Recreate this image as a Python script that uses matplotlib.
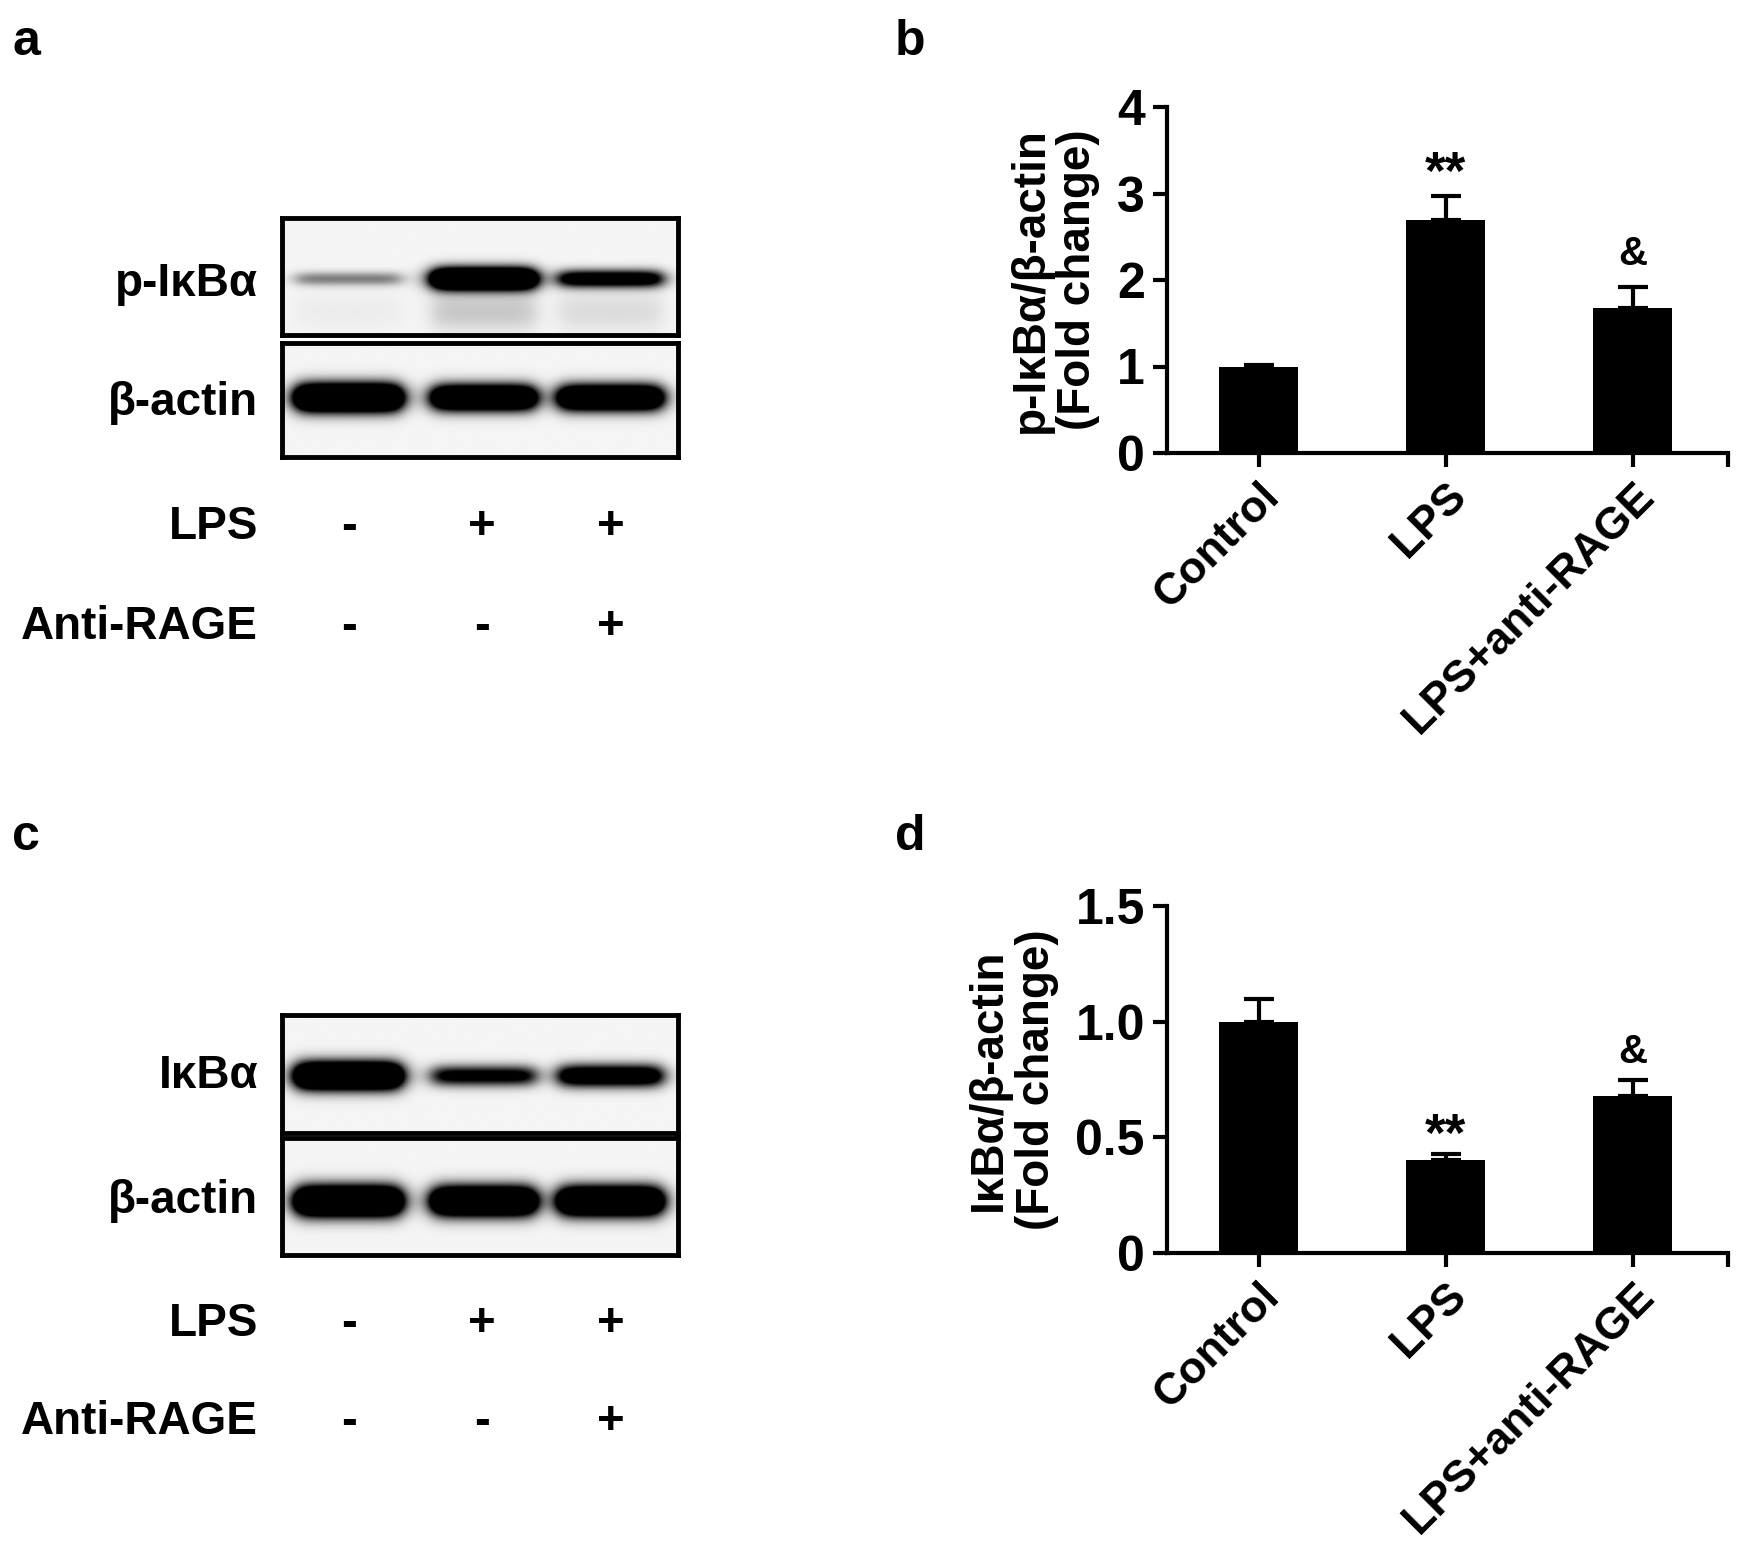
import numpy as np
import matplotlib
matplotlib.use("Agg")
import matplotlib.pyplot as plt

plt.rcParams.update({
    "font.family": ["Liberation Sans", "DejaVu Sans"],
    "font.weight": "bold",
    "axes.labelweight": "bold",
    "font.size": 30,
})

# ---- data ----
groups = ["Control", "LPS", "LPS+anti-RAGE"]
p_ikba_mean = [1.00, 2.69, 1.68]
p_ikba_sem = [0.02, 0.28, 0.24]
ikba_mean = [1.00, 0.40, 0.68]
ikba_sem = [0.10, 0.03, 0.07]
marks = ["", "**", "&"]
lps = ["-", "+", "+"]
anti_rage = ["-", "-", "+"]

# relative band darkness per lane (western blots)
p_ikba_band = [0.18, 1.00, 0.55]
actin_a_band = [1.00, 0.85, 0.85]
ikba_band = [1.00, 0.45, 0.60]
actin_c_band = [1.00, 0.95, 0.95]

W, H = 1754, 1552
fig = plt.figure(figsize=(W / 100, H / 100), dpi=100)

MARK_SIZE = {"**": 38, "&": 29}


def px_axes(x0, y0, x1, y1):
    return fig.add_axes([x0 / W, 1 - y1 / H, (x1 - x0) / W, (y1 - y0) / H])


LANES = [(0.035, 0.30), (0.38, 0.64), (0.70, 0.96)]
LANE_X = [0.17, 0.505, 0.83]
BOX_X = (282, 678)


def blot(box_y, amps, yc, thick, haze=None):
    ax = px_axes(BOX_X[0], box_y[0], BOX_X[1], box_y[1])
    ny, nx = 160, 500
    xs = np.linspace(0, 1, nx)[None, :]
    ys = np.linspace(0, 1, ny)[:, None]
    img = np.full((ny, nx), 0.04)
    for (l, r), a in zip(LANES, amps):
        hx = 1 / (1 + np.exp(-(xs - l) / 0.014)) / (1 + np.exp((xs - r) / 0.014))
        sig = thick * (0.55 + 0.45 * a)
        img = img + 2.6 * a * hx * np.exp(-0.5 * ((ys - yc) / sig) ** 2)
        if haze is not None:
            img = img + haze * a * hx * np.exp(-0.5 * ((ys - 0.80) / 0.12) ** 2)
    ax.imshow(np.clip(img, 0, 1), cmap="gray_r", vmin=0, vmax=1,
              extent=(0, 1, 1, 0), aspect="auto", interpolation="bilinear")
    ax.set_xticks([]); ax.set_yticks([])
    for s in ax.spines.values():
        s.set_linewidth(3.5)
    return ax


def row_label(text, y):
    fig.text(258 / W, 1 - y / H, text, ha="right", va="center", fontsize=33)


def signs(row, y):
    for sx, s in zip(LANE_X, row):
        fig.text((BOX_X[0] + sx * (BOX_X[1] - BOX_X[0])) / W, 1 - y / H, s,
                 ha="center", va="center", fontsize=34)


# ---- panel a ----
blot((218, 335), p_ikba_band, 0.52, 0.065, haze=0.18)
blot((343, 457), actin_a_band, 0.48, 0.085)
row_label("p-IκBα", 284)
row_label("β-actin", 403)
row_label("LPS", 527)
row_label("Anti-RAGE", 627)
signs(lps, 527)
signs(anti_rage, 627)

# ---- panel c ----
blot((1015, 1133), ikba_band, 0.52, 0.08)
blot((1138, 1255), actin_c_band, 0.54, 0.09)
row_label("IκBα", 1076)
row_label("β-actin", 1201)
row_label("LPS", 1324)
row_label("Anti-RAGE", 1422)
signs(lps, 1324)
signs(anti_rage, 1422)


# ---- bar panels ----
def bars(ax, mean, sem, ylim, yticks, yticklabels, ylabel, off):
    x = np.arange(len(groups))
    ax.bar(x, mean, width=0.42, color="black", zorder=2)
    ax.errorbar(x, mean, yerr=[np.zeros(len(x)), sem], fmt="none", ecolor="black",
                elinewidth=3, capsize=11, capthick=3, zorder=1)
    for i, m in enumerate(marks):
        if m:
            ax.annotate(m, xy=(i, mean[i] + sem[i]), xytext=(0, off[m]),
                        textcoords="offset points", ha="center", va="bottom",
                        fontsize=MARK_SIZE[m])
    ax.set_xlim(-0.49, 2.51)
    ax.set_ylim(*ylim)
    ax.set_yticks(yticks)
    ax.set_yticklabels(yticklabels, fontsize=36)
    ax.set_xticks(x)
    ax.set_xticklabels(groups, rotation=45, ha="right", va="top",
                       rotation_mode="anchor", fontsize=32)
    ax.set_xticks([2.51], minor=True)
    for side in ("top", "right"):
        ax.spines[side].set_visible(False)
    for side in ("left", "bottom"):
        ax.spines[side].set_linewidth(3)
    ax.tick_params(which="both", width=3, length=10, pad=6)
    ax.set_ylabel(ylabel, fontsize=33, labelpad=12, linespacing=1.1)


axb = px_axes(1167, 107, 1728, 453)
bars(axb, p_ikba_mean, p_ikba_sem, (0, 4), [0, 1, 2, 3, 4],
     ["0", "1", "2", "3", "4"], "p-IκBα/β-actin\n(Fold change)",
     {"**": -3, "&": 10})

axd = px_axes(1167, 906, 1728, 1253)
bars(axd, ikba_mean, ikba_sem, (0, 1.5), [0, 0.5, 1.0, 1.5],
     ["0", "0.5", "1.0", "1.5"], "IκBα/β-actin\n(Fold change)",
     {"**": -6, "&": 6})

for lab, x, y in [("a", 12, 42), ("b", 895, 42), ("c", 12, 837), ("d", 895, 837)]:
    fig.text(x / W, 1 - y / H, lab, ha="left", va="center", fontsize=36)

fig.savefig("out.png", dpi=100)
